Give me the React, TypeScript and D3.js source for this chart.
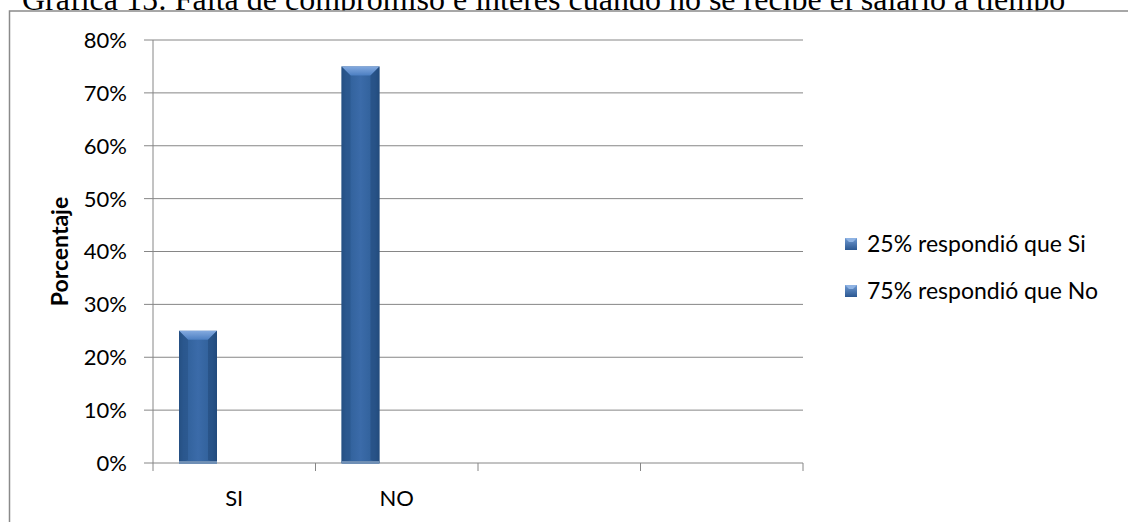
import React from "react";
import * as d3 from "d3";

// Chart data
const title = "Grafica 15: Falta de compromiso e interés cuando no se recibe el salario a tiempo";
const categories = ["SI", "NO", "c3", "c4"];
const categoryLabels = ["SI", "NO", "", ""];
const values = [0.25, 0.75, null, null];
const yTicks = [0, 0.1, 0.2, 0.3, 0.4, 0.5, 0.6, 0.7, 0.8];
const legendLabels = ["25% respondió que Si", "75% respondió que No"];
const yAxisTitle = "Porcentaje";

const W = 1128;
const H = 522;
const plot = { left: 153, right: 803, top: 40, bottom: 463 };
const font = "Lato, 'Open Sans', sans-serif";
const gridColor = "#868686";

export default function App() {
  const x = d3
    .scaleBand<string>()
    .domain(categories)
    .range([plot.left, plot.right])
    .paddingInner(0)
    .paddingOuter(0);
  const y = d3.scaleLinear().domain([0, 0.8]).range([plot.bottom, plot.top]);
  const bw = x.bandwidth();
  // slot scale inside each category (bars sit in the first slot)
  const slot = d3.scaleBand<string>().domain(["a", "b", "c"]).range([26, 140]);
  const barW = slot.bandwidth();
  const pct = d3.format(".0%");
  const bevel = 9;

  return (
    <svg
      width={W}
      height={H}
      style={{ position: "absolute", left: 0, top: 0, background: "#fff" }}
    >
      <defs>
        <linearGradient id="barBody" x1="0" x2="1" y1="0" y2="0">
          <stop offset="0" stopColor="#244f82" />
          <stop offset="0.12" stopColor="#2f5f98" />
          <stop offset="0.5" stopColor="#3b6ba9" />
          <stop offset="0.88" stopColor="#2f5f98" />
          <stop offset="1" stopColor="#244f82" />
        </linearGradient>
        <linearGradient id="barTop" x1="0" x2="0" y1="0" y2="1">
          <stop offset="0" stopColor="#84aadf" />
          <stop offset="1" stopColor="#4c7fc2" />
        </linearGradient>
        <linearGradient id="legBox" x1="0" x2="0" y1="0" y2="1">
          <stop offset="0" stopColor="#6f9ad2" />
          <stop offset="1" stopColor="#2b5791" />
        </linearGradient>
      </defs>

      {/* title, partly covered by the chart frame below it */}
      <text
        x={22}
        y={10}
        fontFamily="'Liberation Serif', 'Times New Roman', serif"
        fontSize={32}
        fill="#000"
      >
        {title}
      </text>

      {/* chart frame with white fill */}
      <rect x={9.5} y={11} width={W} height={H} fill="#fff" />
      <path
        d={`M9.5,${H} L9.5,11 L${W},11`}
        fill="none"
        stroke="#8a8a8a"
        strokeWidth={1.5}
      />

      {/* gridlines and y ticks */}
      {yTicks.map((t) => (
        <g key={t}>
          <line
            x1={plot.left - 9}
            x2={plot.right}
            y1={y(t)}
            y2={y(t)}
            stroke={gridColor}
            strokeWidth={1}
          />
          <text
            x={127}
            y={y(t)}
            dy="0.36em"
            textAnchor="end"
            fontFamily={font}
            fontSize={22}
            fill="#000"
          >
            {pct(t)}
          </text>
        </g>
      ))}

      {/* y axis line */}
      <line
        x1={plot.left}
        x2={plot.left}
        y1={plot.top}
        y2={plot.bottom}
        stroke={gridColor}
        strokeWidth={1}
      />

      {/* category ticks */}
      {categories.map((c) => (
        <line
          key={"t" + c}
          x1={x(c) as number}
          x2={x(c) as number}
          y1={plot.bottom}
          y2={plot.bottom + 8}
          stroke={gridColor}
          strokeWidth={1}
        />
      ))}
      <line
        x1={plot.right}
        x2={plot.right}
        y1={plot.bottom}
        y2={plot.bottom + 8}
        stroke={gridColor}
        strokeWidth={1}
      />

      {/* bars */}
      {categories.map((c, i) => {
        const v = values[i];
        if (v == null) return null;
        const x0 = (x(c) as number) + (slot("a") as number);
        const y0 = y(v);
        const h = plot.bottom - y0;
        return (
          <g key={"b" + c}>
            <rect x={x0} y={y0} width={barW} height={h} fill="url(#barBody)" />
            <path
              d={`M${x0},${y0} L${x0 + barW},${y0} L${x0 + barW - bevel},${y0 + bevel} L${x0 + bevel},${y0 + bevel} Z`}
              fill="url(#barTop)"
            />
            <path
              d={`M${x0},${y0} L${x0 + bevel},${y0 + bevel} L${x0 + bevel},${y0 + h - 3} L${x0},${y0 + h} Z`}
              fill="#264f84"
              opacity={0.5}
            />
            <path
              d={`M${x0 + barW},${y0} L${x0 + barW - bevel},${y0 + bevel} L${x0 + barW - bevel},${y0 + h - 3} L${x0 + barW},${y0 + h} Z`}
              fill="#1f4676"
              opacity={0.5}
            />
            <rect
              x={x0}
              y={plot.bottom - 2}
              width={barW}
              height={3}
              fill="#6f8fb5"
            />
          </g>
        );
      })}

      {/* category labels */}
      {categories.map((c, i) => (
        <text
          key={"l" + c}
          x={(x(c) as number) + bw / 2}
          y={498}
          dy="0.36em"
          textAnchor="middle"
          fontFamily={font}
          fontSize={22}
          fill="#000"
        >
          {categoryLabels[i]}
        </text>
      ))}

      {/* y axis title */}
      <text
        transform={`translate(60,${(plot.top + plot.bottom) / 2}) rotate(-90)`}
        textAnchor="middle"
        dy="0.36em"
        fontFamily={font}
        fontWeight="bold"
        fontSize={23}
        fill="#000"
      >
        {yAxisTitle}
      </text>

      {/* legend */}
      {legendLabels.map((l, i) => {
        const cy = 244 + i * 47;
        return (
          <g key={l}>
            <rect x={845} y={cy - 6} width={12} height={12} fill="url(#legBox)" />
            <path
              d={`M845,${cy - 6} L857,${cy - 6} L853,${cy - 2} L849,${cy - 2} Z`}
              fill="#8fb3e3"
            />
            <text
              x={867}
              y={cy}
              dy="0.36em"
              fontFamily={font}
              fontSize={23}
              fill="#000"
            >
              {l}
            </text>
          </g>
        );
      })}
    </svg>
  );
}
